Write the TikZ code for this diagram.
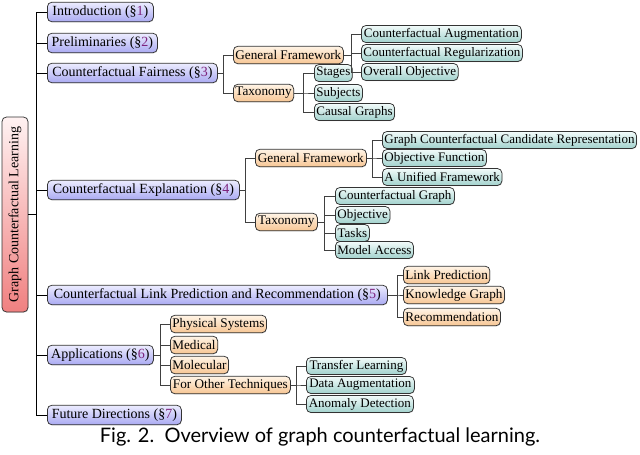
\documentclass[tikz,border=0pt]{standalone}
\usepackage{fontspec}
\setmainfont{Liberation Serif}
\newfontfamily\capfont{Lato}
\usetikzlibrary{shadows,calc}
\definecolor{secnum}{RGB}{125,35,125}
\definecolor{lonetop}{RGB}{236,236,255}
\definecolor{lonebot}{RGB}{170,170,242}
\definecolor{ltwotop}{RGB}{255,244,230}
\definecolor{ltwobot}{RGB}{247,198,148}
\definecolor{lthrtop}{RGB}{242,251,250}
\definecolor{lthrbot}{RGB}{162,210,205}
\definecolor{roottop}{RGB}{255,242,242}
\definecolor{rootbot}{RGB}{240,128,128}
\newcommand{\sn}[1]{(\S\textcolor{secnum}{#1})}
\newcommand{\fan}[3]{\foreach \c in {#3} {\draw[conn] (#1.east) -| ([xshift=-#2]\c.west) -- (\c.west);}}
\tikzset{
  box/.style={draw=black!80, line width=0.75pt, rounded corners=4.5pt, anchor=west,
    inner xsep=2pt, inner ysep=0pt,
    drop shadow={shadow xshift=0.5pt,shadow yshift=-0.7pt,opacity=0.3}},
  lone/.style={box, top color=lonetop, bottom color=lonebot, minimum height=19.5pt,
    font=\fontsize{14}{16}\selectfont},
  ltwo/.style={box, top color=ltwotop, bottom color=ltwobot, minimum height=17.5pt,
    font=\fontsize{13.2}{15}\selectfont},
  lthr/.style={box, top color=lthrtop, bottom color=lthrbot, minimum height=17pt,
    font=\fontsize{13}{15}\selectfont},
  rootbox/.style={draw=black!80, line width=0.75pt, rounded corners=4.5pt,
    top color=roottop, bottom color=rootbot, inner sep=0pt,
    minimum width=26pt, minimum height=195pt, font=\fontsize{14}{16}\selectfont,
    drop shadow={shadow xshift=0.5pt,shadow yshift=-0.7pt,opacity=0.3}},
  conn/.style={draw=black!75, line width=0.75pt},
  trunk/.style={draw=black, line width=0.9pt},
}
\begin{document}
\begin{tikzpicture}[x=1pt,y=-1pt]
\useasboundingbox (0,0) rectangle (640,455);
% root
\node[rootbox] (root) at (15,214.5) {\rotatebox{90}{Graph Counterfactual Learning}};
% level 1
\node[lone, minimum width=106] (i1) at (47,12) {Introduction \sn{1}};
\node[lone, minimum width=110] (i2) at (47,43) {Preliminaries \sn{2}};
\node[lone, minimum width=170] (i3) at (47,73) {Counterfactual Fairness \sn{3}};
\node[lone, minimum width=192] (i4) at (47,190) {Counterfactual Explanation \sn{4}};
\node[lone, minimum width=340] (i5) at (47,295) {Counterfactual Link Prediction and Recommendation \sn{5}};
\node[lone, minimum width=106] (i6) at (47,355) {Applications \sn{6}};
\node[lone, minimum width=134] (i7) at (47,415) {Future Directions \sn{7}};
% section 3
\node[ltwo, minimum width=110] (fgf) at (233,55) {General Framework};
\node[ltwo, minimum width=60] (ftx) at (233,93) {Taxonomy};
\node[lthr, minimum width=160] (fca) at (361,34) {Counterfactual Augmentation};
\node[lthr, minimum width=160] (fcr) at (361,53) {Counterfactual Regularization};
\node[lthr, minimum width=96] (foo) at (361,72) {Overall Objective};
\node[lthr, minimum width=35] (fst) at (314,73) {Stages};
\node[lthr, minimum width=48] (fsb) at (314,93) {Subjects};
\node[lthr, minimum width=80] (fcg) at (314,112) {Causal Graphs};
% section 4
\node[ltwo, minimum width=111] (egf) at (255,158) {General Framework};
\node[ltwo, minimum width=62] (etx) at (255,222) {Taxonomy};
\node[lthr, minimum width=254] (egc) at (382,140) {Graph Counterfactual Candidate Representation};
\node[lthr, minimum width=103] (eof) at (382,158) {Objective Function};
\node[lthr, minimum width=114] (euf) at (382,177) {A Unified Framework};
\node[lthr, minimum width=119] (ecg) at (335,196) {Counterfactual Graph};
\node[lthr, minimum width=54] (eob) at (335,215) {Objective};
\node[lthr, minimum width=34] (ets) at (335,233) {Tasks};
\node[lthr, minimum width=76] (ema) at (335,250) {Model Access};
% section 5
\node[ltwo, minimum width=86] (llp) at (403,275) {Link Prediction};
\node[ltwo, minimum width=100] (lkg) at (403,295) {Knowledge Graph};
\node[ltwo, minimum width=97] (lrc) at (403,317) {Recommendation};
% section 6
\node[ltwo, minimum width=96] (aps) at (170,324) {Physical Systems};
\node[ltwo, minimum width=47] (amd) at (170,345) {Medical};
\node[ltwo, minimum width=58] (aml) at (170,365) {Molecular};
\node[ltwo, minimum width=120] (aot) at (170,385) {For Other Techniques};
\node[lthr, minimum width=100] (atl) at (306,366) {Transfer Learning};
\node[lthr, minimum width=108] (ada) at (306,385) {Data Augmentation};
\node[lthr, minimum width=107] (aad) at (306,404) {Anomaly Detection};
% connectors
\foreach \c in {i1,i2,i3,i4,i5,i6,i7} {\draw[trunk] (root.east) -| ([xshift=-11pt]\c.west) -- (\c.west);}
\fan{i3}{10pt}{fgf,ftx}
\fan{fgf}{10pt}{fca,fcr,foo}
\fan{ftx}{11pt}{fst,fsb,fcg}
\fan{i4}{10pt}{egf,etx}
\fan{egf}{10pt}{egc,eof,euf}
\fan{etx}{11pt}{ecg,eob,ets,ema}
\fan{i5}{6pt}{llp,lkg,lrc}
\fan{i6}{10pt}{aps,amd,aml,aot}
\fan{aot}{10pt}{atl,ada,aad}
% caption
\node[font=\capfont\fontsize{20}{23}\selectfont] (cap) at (320,437) {Fig. 2.\ \ Overview of graph counterfactual learning.};
\end{tikzpicture}
\end{document}
